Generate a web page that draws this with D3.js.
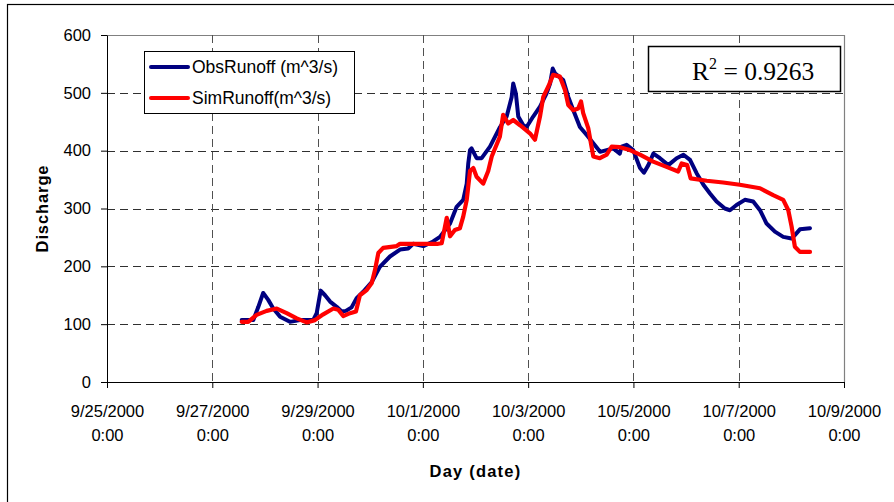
<!DOCTYPE html>
<html>
<head>
<meta charset="utf-8">
<script src="https://cdn.jsdelivr.net/npm/d3@7"></script>
<style>
  html, body { margin: 0; padding: 0; background: #fff; }
  svg { display: block; }
  text { font-family: "Liberation Sans", Arial, sans-serif; fill: #000; }
</style>
</head>
<body>
<svg id="chart" width="894" height="502"></svg>
<script>
// ---- data (hours after 9/25/2000 0:00, discharge in m^3/s) ----
const startDate = new Date(2000, 8, 25, 0, 0);

const obsHours = [61.4, 66.7, 69.0, 71.2, 73.5, 75.8, 78.9, 83.4, 88.0, 94.0, 95.6, 97.4, 99.4, 101.7,
  104.7, 107.0, 108.9, 111.5, 113.8, 116.8, 120.7, 124.4, 129.0, 133.6, 137.3, 139.6, 144.2, 148.7,
  151.8, 156.4, 159.4, 162.4, 164.0, 164.7, 165.5, 166.2, 168.5, 170.8, 174.6, 179.2, 182.2, 184.5,
  185.2, 186.4, 187.5, 189.8, 191.3, 194.3, 197.4, 200.4, 202.0, 203.2, 204.2, 208.0, 210.3, 212.6,
  215.6, 218.7, 221.7, 224.8, 227.8, 230.8, 233.8, 234.6, 236.9, 239.9, 243.0, 244.8, 246.8, 249.1,
  252.1, 255.9, 259.7, 262.8, 265.8, 268.8, 271.9, 274.9, 277.9, 281.7, 284.0, 287.0, 290.8, 294.6,
  297.7, 300.7, 304.5, 308.3, 312.1, 313.6, 315.9, 320.5];
const obsValues = [107, 107, 130, 154, 142, 127, 113, 104, 107, 107, 119, 158, 150, 139,
  130, 122, 123, 129, 145, 156, 173, 199, 217, 229, 231, 239, 235, 243,
  251, 274, 303, 315, 343, 378, 401, 404, 387, 387, 407, 441, 459, 493,
  516, 499, 459, 444, 441, 459, 476, 499, 516, 542, 534, 522, 493, 470,
  441, 427, 413, 398, 401, 404, 395, 407, 410, 401, 370, 362, 375, 395,
  387, 375, 387, 393, 384, 361, 341, 326, 312, 300, 297, 306, 315, 312,
  297, 274, 260, 251, 248, 254, 264, 266];

const simHours = [61.4, 64.4, 68.2, 72.8, 77.4, 81.9, 86.5, 91.0, 94.8, 98.6, 103.2, 105.4, 107.7,
  110.8, 113.5, 115.3, 118.4, 120.7, 122.2, 123.7, 125.9, 132.1, 133.6, 142.7, 151.0, 152.6, 154.9,
  156.4, 158.6, 160.9, 162.4, 164.0, 165.5, 167.0, 168.5, 171.5, 173.8, 175.4, 179.1, 180.6, 182.9,
  185.2, 188.3, 192.8, 195.1, 197.4, 198.9, 201.2, 203.4, 206.5, 208.8, 210.3, 212.6, 214.8, 216.1,
  217.1, 219.4, 220.9, 221.7, 224.7, 227.8, 230.1, 233.8, 238.4, 243.0, 249.0, 255.1, 260.4, 262.0,
  264.5, 266.1, 273.4, 280.9, 288.5, 297.7, 303.7, 308.3, 310.6, 312.1, 313.6, 315.9, 320.5];
const simValues = [104, 104, 116, 123, 127, 119, 110, 103, 107, 117, 127, 125, 114,
  119, 122, 150, 159, 171, 194, 223, 232, 235, 239, 239, 239, 240, 284,
  252, 263, 266, 286, 315, 365, 370, 355, 343, 365, 390, 424, 462, 447,
  453, 444, 430, 419, 459, 493, 511, 531, 528, 505, 479, 470, 473, 485,
  465, 439, 407, 390, 387, 393, 407, 406, 401, 393, 381, 372, 364, 378,
  375, 352, 348, 345, 341, 335, 323, 315, 297, 269, 234, 225, 225];

const seriesNames = ["ObsRunoff (m^3/s)", "SimRunoff(m^3/s)"];
const xTickDates = ["2000-09-25", "2000-09-27", "2000-09-29", "2000-10-01", "2000-10-03", "2000-10-05", "2000-10-07", "2000-10-09"];
const xTickLabels = ["9/25/2000", "9/27/2000", "9/29/2000", "10/1/2000", "10/3/2000", "10/5/2000", "10/7/2000", "10/9/2000"];
const yTicks = [0, 100, 200, 300, 400, 500, 600];
const xTitle = "Day (date)";
const yTitle = "Discharge";
const r2Label = "0.9263";

// ---- helpers ----
const parseDay = s => { const [Y, M, D] = s.split("-").map(Number); return new Date(Y, M - 1, D); };
const hoursToDate = h => new Date(startDate.getTime() + h * 3600 * 1000);
const obs = obsHours.map((h, i) => ({ t: hoursToDate(h), v: obsValues[i] }));
const sim = simHours.map((h, i) => ({ t: hoursToDate(h), v: simValues[i] }));
const tickDates = xTickDates.map(parseDay);

const svg = d3.select("#chart");
const L = 107, R = 844, T = 35, B = 382;

const x = d3.scaleTime().domain([tickDates[0], tickDates[tickDates.length - 1]]).range([L, R]);
const y = d3.scaleLinear().domain([0, 600]).range([B, T]);

// outer frame (continues past the picture's right/bottom edges)
svg.append("rect").attr("x", 7.5).attr("y", 4.5).attr("width", 920).attr("height", 540)
  .attr("fill", "none").attr("stroke", "#000").attr("stroke-width", 1.2);

// plot area border (top / right grey)
svg.append("path")
  .attr("d", `M${L},${T + 0.5}H${R + 0.5}V${B}`)
  .attr("fill", "none").attr("stroke", "#808080").attr("stroke-width", 1.2);

// gridlines
const grid = svg.append("g").attr("stroke", "#303030").attr("stroke-width", 1).attr("stroke-dasharray", "8,5");
grid.selectAll("line.h").data(yTicks.filter(v => v > 0 && v < 600)).join("line")
  .attr("x1", L).attr("x2", R).attr("y1", d => Math.round(y(d)) + 0.5).attr("y2", d => Math.round(y(d)) + 0.5);
grid.selectAll("line.v").data(tickDates.slice(1, -1)).join("line")
  .attr("y1", T).attr("y2", B).attr("x1", d => Math.round(x(d)) + 0.5).attr("x2", d => Math.round(x(d)) + 0.5)
  .attr("stroke", "#505050");

// y axis
const yAxis = svg.append("g").attr("transform", `translate(${L},0)`)
  .call(d3.axisLeft(y).tickValues(yTicks).tickSize(6).tickPadding(10).tickSizeOuter(0));
yAxis.select(".domain").attr("stroke", "#000");
yAxis.selectAll("text").style("font-size", "16.5px").attr("font-family", null);

// x axis
const xAxis = svg.append("g").attr("transform", `translate(0,${B})`)
  .call(d3.axisBottom(x).tickValues(tickDates).tickSize(6).tickSizeOuter(0).tickFormat(""));
xAxis.select(".domain").attr("stroke", "#000");
xAxis.selectAll(".tick").each(function (d, i) {
  const g = d3.select(this);
  g.select("text").remove();
  const t = g.append("text").attr("text-anchor", "middle").style("font-size", "16.5px").attr("fill", "#000");
  t.append("tspan").attr("x", 0).attr("y", 35).text(xTickLabels[i]);
  t.append("tspan").attr("x", 0).attr("y", 59).text("0:00");
});

// axis titles
svg.append("text").attr("x", (L + R) / 2).attr("y", 477).attr("text-anchor", "middle")
  .style("font-size", "16.5px").style("font-weight", "bold").style("letter-spacing", "1.2px").text(xTitle);
svg.append("text").attr("transform", `translate(48,${(T + B) / 2}) rotate(-90)`).attr("text-anchor", "middle")
  .style("font-size", "16.5px").style("font-weight", "bold").style("letter-spacing", "0.9px").text(yTitle);

// series lines
const line = d3.line().x(d => x(d.t)).y(d => y(d.v));
svg.append("path").datum(obs).attr("d", line).attr("fill", "none")
  .attr("stroke", "#000080").attr("stroke-width", 4).attr("stroke-linejoin", "round").attr("stroke-linecap", "round");
svg.append("path").datum(sim).attr("d", line).attr("fill", "none")
  .attr("stroke", "#ff0000").attr("stroke-width", 4.2).attr("stroke-linejoin", "round").attr("stroke-linecap", "round");

// legend
const lg = svg.append("g");
lg.append("rect").attr("x", 144.5).attr("y", 51.5).attr("width", 210).attr("height", 62)
  .attr("fill", "#fff").attr("stroke", "#000").attr("stroke-width", 1);
const legendColors = ["#000080", "#ff0000"];
seriesNames.forEach((name, i) => {
  const cy = 67 + i * 31;
  lg.append("line").attr("x1", 151).attr("x2", 188).attr("y1", cy).attr("y2", cy)
    .attr("stroke", legendColors[i]).attr("stroke-width", 4).attr("stroke-linecap", "round");
  lg.append("text").attr("x", 192).attr("y", cy + 6).style("font-size", "17.5px").text(name);
});

// R^2 box
const rb = svg.append("g");
rb.append("rect").attr("x", 648.5).attr("y", 46.5).attr("width", 192).attr("height", 45)
  .attr("fill", "#fff").attr("stroke", "#000").attr("stroke-width", 1.5);
const rt = rb.append("text").attr("x", 692).attr("y", 80)
  .style("font-family", "'Liberation Serif', 'Times New Roman', serif").style("font-size", "25.5px");
rt.append("tspan").text("R");
rt.append("tspan").attr("dy", -11).style("font-size", "16px").text("2");
rt.append("tspan").attr("dy", 11).text(" = " + r2Label);
</script>
</body>
</html>
